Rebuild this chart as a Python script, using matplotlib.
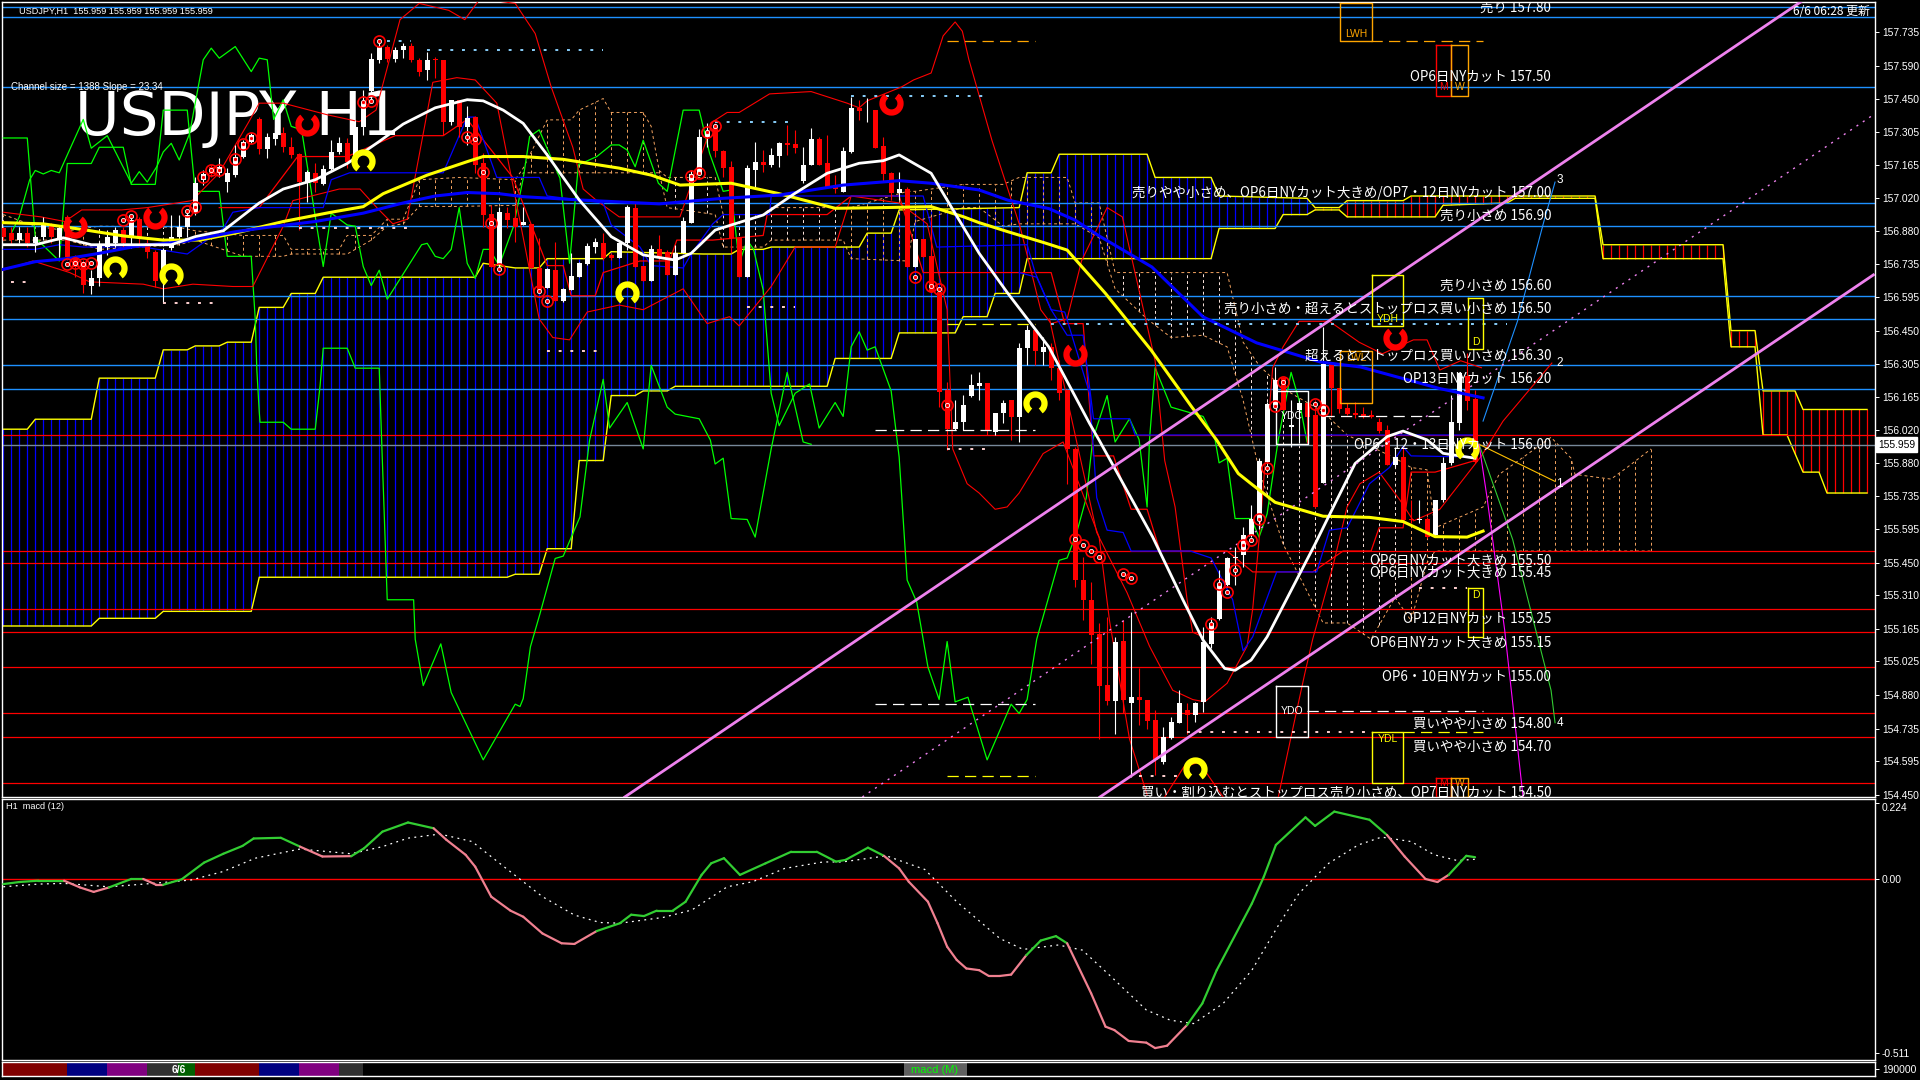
import numpy as np
import matplotlib
matplotlib.use("Agg")
import matplotlib.pyplot as plt
from matplotlib.path import Path

plt.rcParams['font.family'] = ['Noto Sans CJK JP', 'DejaVu Sans']

# candles, one entry per hourly bar
body_top = [156.891,156.869,156.869,156.869,156.855,156.905,156.901,156.891,156.941,156.766,
156.747,156.675,156.819,156.855,156.884,156.884,156.927,156.931,156.826,156.790,
156.797,156.855,156.895,156.948,157.085,157.125,157.157,157.157,157.131,157.200,
157.264,157.293,157.362,157.286,157.303,157.300,157.243,157.210,157.135,157.131,
157.147,157.219,157.260,157.257,157.329,157.437,157.619,157.674,157.671,157.660,
157.677,157.677,157.617,157.617,157.621,157.617,157.444,157.444,157.365,157.372,
157.171,156.952,156.962,156.955,156.934,156.920,156.908,156.718,156.714,156.711,
156.628,156.685,156.743,156.814,156.833,156.826,156.776,156.826,156.981,156.977,
156.728,156.800,156.800,156.790,156.783,156.922,157.125,157.283,157.307,157.329,
157.225,157.156,156.848,157.149,157.178,157.178,157.207,157.257,157.257,157.254,
157.164,157.274,157.274,157.171,157.077,157.225,157.408,157.408,157.398,157.401,
157.246,157.128,157.060,157.060,156.845,156.843,156.771,156.618,156.193,156.054,
156.129,156.215,156.225,156.222,156.093,156.136,156.150,156.373,156.452,156.452,
156.380,156.380,156.287,156.193,155.939,155.374,155.291,155.142,154.922,155.109,
155.112,154.871,154.871,154.860,154.771,154.699,154.764,154.843,154.814,154.843,
155.109,155.188,155.360,155.468,155.475,155.571,155.636,155.889,156.134,156.237,
156.244,156.042,156.137,156.137,156.086,156.306,156.306,156.201,156.117,156.094,
156.091,156.086,156.058,156.022,155.907,155.907,155.638,155.638,155.637,155.720,
155.878,156.058,156.266,156.255,156.155]
body_bot = [156.855,156.841,156.841,156.829,156.829,156.855,156.855,156.841,156.769,156.726,
156.647,156.644,156.675,156.812,156.826,156.826,156.855,156.855,156.790,156.664,
156.697,156.805,156.855,156.895,156.956,157.099,157.125,157.128,157.092,157.121,
157.197,157.264,157.231,157.231,157.275,157.243,157.207,157.092,157.085,157.088,
157.082,157.145,157.219,157.178,157.185,157.329,157.484,157.614,157.619,157.619,
157.657,157.614,157.566,157.571,157.614,157.351,157.351,157.326,157.329,157.164,
156.948,156.725,156.733,156.927,156.898,156.905,156.718,156.625,156.632,156.579,
156.579,156.625,156.682,156.737,156.809,156.764,156.761,156.761,156.826,156.725,
156.665,156.665,156.768,156.689,156.689,156.783,156.915,157.125,157.283,157.225,
157.152,156.848,156.682,156.682,157.142,157.164,157.164,157.202,157.250,157.236,
157.096,157.164,157.164,157.070,157.059,157.049,157.221,157.398,157.396,157.236,
157.125,157.042,157.042,156.725,156.725,156.768,156.618,156.187,156.024,156.024,
156.054,156.167,156.211,156.021,156.014,156.093,156.078,156.078,156.373,156.361,
156.359,156.287,156.182,155.939,155.377,155.288,155.137,154.917,154.854,154.854,
154.857,154.843,154.857,154.768,154.598,154.591,154.695,154.759,154.792,154.792,
154.850,155.101,155.209,155.353,155.468,155.482,155.568,155.636,155.885,156.130,
156.108,156.033,156.108,156.079,155.691,155.795,156.201,156.111,156.091,156.086,
156.079,156.079,156.019,155.871,155.871,155.634,155.634,155.634,155.559,155.569,
155.720,155.878,156.053,156.148,155.885]
wick_high = [156.898,156.898,156.898,156.898,156.862,156.941,156.912,156.905,156.948,156.776,
156.754,156.711,156.833,156.884,156.898,156.898,156.941,156.941,156.848,156.797,
156.805,156.948,156.948,156.970,157.114,157.142,157.164,157.193,157.150,157.250,
157.272,157.300,157.372,157.300,157.326,157.329,157.286,157.214,157.142,157.174,
157.164,157.272,157.286,157.279,157.358,157.487,157.645,157.703,157.681,157.674,
157.688,157.688,157.624,157.652,157.631,157.617,157.444,157.444,157.418,157.375,
157.214,156.991,156.984,156.984,156.991,156.984,156.908,156.848,156.718,156.833,
156.632,156.783,156.747,156.826,156.848,156.869,156.783,156.833,156.991,156.998,
156.728,156.819,156.862,156.797,156.819,156.941,157.142,157.317,157.343,157.343,
157.228,157.182,156.855,157.164,157.264,157.228,157.235,157.264,157.336,157.315,
157.243,157.322,157.286,157.293,157.121,157.240,157.458,157.444,157.451,157.401,
157.286,157.135,157.135,157.070,156.845,156.843,156.941,156.639,156.229,156.150,
156.172,156.265,156.272,156.222,156.093,156.150,156.150,156.395,156.474,156.452,
156.423,156.395,156.323,156.2,155.95,155.475,155.367,155.188,155.216,155.130,
155.202,155.238,154.994,154.860,154.814,154.742,154.785,154.900,154.843,154.850,
155.173,155.216,155.420,155.475,155.518,155.604,155.698,155.899,156.144,156.295,
156.252,156.151,156.151,156.137,156.151,156.467,156.309,156.201,156.137,156.144,
156.122,156.108,156.072,156.043,155.950,155.950,155.720,155.720,155.648,155.720,
155.907,156.173,156.273,156.352,156.194]
wick_low = [156.841,156.82,156.826,156.812,156.790,156.841,156.826,156.769,156.754,156.682,
156.611,156.608,156.642,156.776,156.812,156.812,156.812,156.812,156.762,156.639,
156.568,156.797,156.848,156.855,156.948,157.078,157.114,157.114,157.049,157.114,
157.193,157.257,157.211,157.193,157.250,157.221,157.193,156.884,157.006,157.049,
157.078,157.142,157.211,157.150,157.178,157.293,157.437,157.602,157.609,157.609,
157.624,157.609,157.545,157.530,157.537,157.293,157.336,157.286,157.250,157.128,
156.898,156.725,156.725,156.891,156.833,156.905,156.718,156.618,156.632,156.579,
156.574,156.625,156.679,156.733,156.783,156.754,156.754,156.761,156.797,156.725,
156.665,156.665,156.754,156.689,156.689,156.783,156.912,157.121,157.243,157.200,
157.113,156.783,156.682,156.682,157.070,157.135,157.154,157.156,157.207,157.214,
157.085,157.164,157.164,157.063,157.042,157.049,157.214,157.358,157.350,157.236,
157.092,157.013,157.013,156.725,156.725,156.768,156.618,156.122,155.935,156.021,
156.021,156.165,156.150,155.999,155.999,156.050,155.978,155.971,156.301,156.301,
156.301,156.236,156.150,155.791,155.346,155.202,155.015,154.692,154.836,154.713,
154.800,154.527,154.749,154.735,154.534,154.584,154.692,154.757,154.713,154.764,
154.807,155.080,155.202,155.346,155.353,155.432,155.561,155.597,155.878,156.122,
156.108,155.950,155.964,155.964,155.684,155.792,156.079,156.094,156.086,156.072,
156.072,156.072,156.007,155.871,155.864,155.634,155.619,155.619,155.555,155.562,
155.713,155.871,156.022,156.108,155.878]
candle_up = ("rrwrwwrwrr" "rwwwwrwrrr" "wwwwwwrwww" "wwrwwrrrwr" "wwwrwwwwrw" "wrrwrrwrwr"
             "rrwrrwrrwr" "wwwwwrrwwr" "rwrrwwwwwr" "rrrwwrwwrr" "wwrrrwwrwr" "rrwrwrrrrw"
             "wwwrwwrwwr" "wrrrrrrrrw" "rwrrrwwwrw" "wwwwwwwwww" "rwwrrwrrrr" "rrrrwrrwrw" "wwwrr")

# moving averages (bar, price)
white_k = [0,4,7.5,11,16,21,24,27.5,32,35,39,43,47,50,54,58,60,62.5,65,68,72,76,80,84,86,89,91,95,99,103,107,110,112,116,119,122,125.6,130.7,135.8,137,143.7,147.5,150,152.7,154,156,158,161,164,166.5,169,173,175,178,180,184]
white_p = [156.82,156.82,156.85,156.82,156.82,156.82,156.855,156.88,157.0,157.06,157.1,157.17,157.265,157.34,157.41,157.445,157.44,157.40,157.343,157.207,157.013,156.855,156.776,156.754,156.783,156.883,156.905,156.948,157.042,157.128,157.171,157.182,157.207,157.128,156.955,156.783,156.61,156.38,156.05,155.978,155.56,155.288,155.116,154.994,154.986,155.03,155.13,155.33,155.53,155.705,155.877,155.993,156.017,155.979,155.921,155.9]
yellow_k = [0,5,10,15,20,24.6,29,35,41,45,47.5,53,58,60,65,70,77,81,84.6,91,97,104,110,116,120,122,125.6,130.2,133,137.8,143.5,148.6,151.7,154.4,156,159,165,170.8,175,179,183,185]
yellow_p = [156.915,156.91,156.885,156.858,156.84,156.84,156.87,156.92,156.96,156.984,157.04,157.12,157.178,157.2,157.2,157.188,157.15,157.12,157.077,157.085,157.04,156.977,156.98,156.984,156.941,156.915,156.876,156.828,156.797,156.61,156.366,156.12,155.978,155.834,155.79,155.71,155.65,155.645,155.627,155.562,155.56,155.586]
blue_k = [0,4,8,12,17,22.5,29,33,39,45,50,54,58,62,65,72,82,90,97,105,112,116,122,125.6,130.7,134,137,143.6,150,156.7,164.6,169.7,179.6,185]
blue_p = [156.714,156.747,156.76,156.783,156.816,156.833,156.876,156.895,156.92,156.956,157.0,157.03,157.045,157.04,157.027,157.013,156.996,157.02,157.034,157.077,157.096,157.085,157.056,157.012,156.976,156.926,156.858,156.724,156.509,156.397,156.315,156.293,156.2,156.16]

# stepped thin blue lines
kijun1_k = [0,4,7,10,17.5,23,27.5,28.7,32,40,41,43.3,55,58,59,61.7,67,68,75,76,79.6,81,85,86,88.7,90,95.8,96,115,116.7,128,129,131,133,135,136.3,140.8,141.5,184]
kijun1_p = [156.80,156.80,156.82,156.81,156.81,156.78,156.89,156.96,156.98,156.98,157.10,157.13,157.13,157.37,157.37,157.11,157.11,157.03,157.0,156.905,156.81,156.73,156.72,156.78,156.91,156.95,156.95,157.03,157.03,156.81,156.82,156.70,156.54,156.43,156.43,156.07,156.07,156.0,156.0]
kijun2_k = [127,129.2,131,132.7,135.8,136.7,138,140,141,148.4,151,153.7,155,156.2,159.2,164.2,165.8,168,170.8,173.3,175,176,184]
kijun2_p = [156.70,156.68,156.54,156.53,156.18,155.73,155.59,155.58,155.50,155.50,155.47,155.29,155.07,155.13,155.41,155.41,155.59,155.60,155.79,155.86,155.95,155.91,155.905]

# thin red bands
red_up_k = [0,4.7,7.7,9.8,14.8,18,23.6,27,30.7,32,35,40.5,44.5,46.6,49.6,52,55.7,57.7,59.6,64,66.5,68.5,71.2,72.5,74.2,77,84.6,88.7,90.5,92,95.8,101,105.5,107,108,112.3,113.8,116,117.5,119,119.9,120.7,123.6,127.1,129.7,131,133,134.8,138,139.9,144,145.2,146.5,148,148.7,150]
red_up_p = [156.96,156.94,156.92,156.97,156.97,156.98,157.01,157.13,157.35,157.43,157.43,157.38,157.35,157.40,157.79,157.86,157.83,157.79,157.88,157.86,157.73,157.50,157.24,157.06,157.01,156.94,156.94,157.35,157.39,157.39,157.47,157.48,157.43,157.41,157.44,157.50,157.53,157.56,157.72,157.78,157.74,157.62,157.27,156.90,156.54,156.48,156.50,156.75,156.98,156.94,156.32,155.89,155.69,155.29,155.15,155.13]
red_low_k = [0,3.7,8.3,10.8,17.5,20,23.7,28.7,31.2,35,36.2,42,44.6,46.7,48.7,50.5,53.7,56.7,59,61.7,67,68.7,70.8,73,77,80,85,88,90.8,92,96,99,104,106,112,115.5,118,118.7,120.5,122,124,125.5,127,130,132.5,137,138.3,140.8,143]
red_low_p = [156.71,156.75,156.70,156.66,156.65,156.63,156.65,156.64,156.64,156.90,157.01,157.06,157.06,156.98,156.91,156.93,157.52,157.54,157.53,157.43,156.50,156.42,156.41,156.53,156.56,156.54,156.63,156.48,156.51,156.47,156.64,156.81,156.81,157.03,157.0,156.91,156.54,155.94,155.79,155.75,155.68,155.69,155.75,155.92,155.97,155.56,155.20,154.69,154.45]
red_mid_k = [130.8,136.7,138,140.5,143.3,146.2,148.7,150.2,153,155.5,156.2,157,158.7,160,162,165.8,169.5,172.4,176.3,178,179.6,182.2,184.8]
red_mid_p = [156.50,155.58,155.49,155.32,155.09,154.90,154.86,154.85,154.93,155.09,155.25,155.55,156.29,156.38,156.49,156.49,156.40,156.35,156.41,156.41,156.28,156.32,156.29]
red_rise_k = [159.4,161,162.7,163.7,166.2,168,169.6,172,174.6,176.3,179.6,184.8,187.5,193.6]
red_rise_p = [154.44,154.70,154.97,155.12,155.43,155.69,155.79,155.84,155.72,155.63,155.68,155.91,156.06,156.31]
red_bot_k = [145.2,147.6,149.5,152.5]
red_bot_p = [154.44,154.57,154.59,154.44]
red_step_k = [27,32,36.8,43,49,55,58,63.7,68,70,71,74,75,79.6,83.3,84.2,88.7,95,95.5,103,106,112,115,131,132.7,135,136.3,138.8,141,143,144.6,153,156.2,163.7,167.5,171,172,175,176,179,184]
red_step_p = [156.98,156.98,157.20,157.20,157.29,157.29,157.36,157.11,156.73,156.73,156.60,156.60,156.70,156.75,156.75,156.84,156.84,156.86,156.95,156.95,157.03,157.03,156.70,156.70,156.48,156.48,155.91,155.91,155.68,155.68,155.50,155.50,155.41,155.41,155.50,155.50,155.60,155.60,155.84,155.84,155.89]

# green lines
green1_k = [0.8,2,3.3,4,5,6,7,10,11,13,16,17,18,19.2,20,21,22,23.3,25,26,27,29,31,32,33,33.8,35,36,37.3,39.2,40,41,43,44,45,46,47,48,52.3,53,54,55,56,57,58,59,60,60.8,62,63.8,65,65.8,67,69.6,70.8,71.9,74.2,76,77,78,79,80,81.9,83,85,87,88.3,90,91,92,93,93.8,95,96,97,99,100.8,102,104,105,106,107,108,109,111,112,113,114.2,115.6,117,118,119,120.6,123,126,127,128,129.2,132,133,134.2,135.4,136.2,138,139,140.8,142,143,143.3,144,146,150,151.5,152,153,154,156,157,158,159.4,161,162,163]
green1_p = [156.855,156.94,157.10,157.14,157.125,157.14,157.13,157.36,157.236,157.29,157.085,157.135,157.09,157.157,157.22,157.257,157.185,157.30,157.617,157.667,157.624,157.674,157.566,157.624,157.617,157.36,157.444,157.33,157.315,156.898,156.726,156.956,156.905,156.90,156.726,156.644,156.71,156.585,156.82,156.826,156.77,156.76,156.80,156.98,156.74,156.675,156.80,156.80,156.73,156.90,157.106,157.286,157.315,157.106,156.74,157.164,157.2,157.25,157.25,157.228,157.156,157.27,157.085,157.05,157.40,157.40,157.214,157.05,157.056,156.74,156.84,156.80,156.625,156.18,156.04,156.18,156.22,156.03,156.14,156.08,156.38,156.445,156.366,156.38,156.19,155.905,155.375,155.28,155.0,154.86,155.11,154.85,154.87,154.60,154.84,154.80,154.86,155.12,155.46,155.47,155.58,155.73,155.98,156.17,155.97,156.07,155.98,155.69,155.98,156.29,156.12,156.08,155.98,155.88,155.90,155.64,155.64,155.56,155.66,155.98,156.27,156.15,155.97]
green2_k = [0,3,4,7,8,11,12,15,16,19,20,23,24,27,28,31,31.5,31.7,32,32.1,35,36,39,39.6,40,43,44,47,47.3,48,51.3,51.5,52.5,54.7,56,60,64,64.6,65,65.9,67.1,69,70,72.1,73.3,75,75.8,78,80,81,83,84,87,88.4,89,90,91,93,94,96,98,100,101]
green2_p = [157.28,157.28,156.85,156.75,157.17,157.17,157.24,157.24,157.08,157.08,157.40,157.40,157.05,157.05,156.77,156.77,156.50,156.28,156.10,156.055,156.055,156.025,156.025,156.21,156.374,156.374,156.288,156.288,155.98,155.29,155.29,155.12,154.92,155.10,154.89,154.60,154.84,154.83,154.864,155.087,155.23,155.468,155.478,155.647,155.978,156.24,156.03,156.14,155.94,156.30,156.12,156.09,156.07,155.978,155.875,155.90,155.64,155.636,155.56,155.94,156.27,155.97,155.96]

# ichimoku cloud edges
span_up_k = [0,3,4,11,12,19,20,23,24,27,28,31,32,35,36,39,40,59,60,64,67,68,75,76,87.5,91,92,95,96,107,108,111,112,127,128,131,132,143,144,151,152,163,164,167,168,175,176,199,200,215,216,219,220,224,225,233]
span_up_p = [156.025,156.025,156.068,156.068,156.245,156.245,156.367,156.367,156.384,156.384,156.40,156.40,156.55,156.55,156.61,156.61,156.68,156.68,156.74,156.72,156.72,156.76,156.76,156.79,156.78,156.78,156.80,156.80,156.81,156.81,156.87,156.87,156.97,156.98,157.13,157.13,157.21,157.21,157.11,157.11,157.03,157.02,156.98,156.98,157.01,157.01,157.03,157.03,156.82,156.82,156.45,156.45,156.19,156.19,156.11,156.11]
span_low_k = [0,11,12,19,20,31,32,63,64,67,68,71,72,75,76,79,80,83,84,103,104,111,112,119,120,123,124,127,128,151,152,159,160,163,164,167,168,171,172,179,180,188,189,199,200,215,216,219,220,223,225,227,228,233]
span_low_p = [155.177,155.177,155.21,155.21,155.24,155.24,155.387,155.387,155.40,155.40,155.51,155.51,155.89,155.89,156.17,156.17,156.19,156.19,156.21,156.21,156.33,156.33,156.44,156.44,156.51,156.51,156.61,156.61,156.76,156.76,156.89,156.89,156.95,156.95,156.97,156.97,156.94,156.94,156.94,156.94,156.99,157.0,157.02,157.02,156.76,156.76,156.38,156.38,156.0,156.0,155.84,155.84,155.75,155.75]
red_cloud_from = 164

# dashed cloud behind price
dash_k = [0,4,8,12,22,24,30,35,36,42,43,46,48,50,52,57,64,65,68,71,72,75,76,80,81,82,83,89,90,95,96,105,106,113,114,120,122,125,127,133,134,137,139,143,146,150,153,155,157,160,165,168,171,174,176,178,179,185,187,193.5,196,196.5,201,203,206]
dash_top = [156.95,156.90,156.88,156.90,156.895,156.88,156.86,156.86,156.80,156.80,156.86,156.86,156.93,156.93,157.10,157.11,157.10,157.15,157.358,157.358,157.40,157.45,157.39,157.39,157.33,157.14,157.11,157.11,156.95,156.95,156.98,156.98,156.98,157.05,157.05,157.08,157.08,157.08,157.11,157.11,157.00,157.00,156.70,156.70,156.70,156.70,156.70,156.40,156.30,156.2,156.1,156.0,155.95,155.9,155.86,155.85,155.60,155.69,155.83,155.99,155.9,155.83,155.81,155.86,155.94]
dash_bot = [156.84,156.84,156.84,156.80,156.82,156.84,156.77,156.77,156.78,156.78,156.78,156.84,156.90,156.91,156.985,156.985,156.99,157.13,157.13,157.13,157.13,157.13,157.13,157.13,157.13,157.13,156.98,156.95,156.81,156.81,156.84,156.84,156.76,156.75,156.92,156.98,156.98,156.90,156.91,156.91,156.91,156.85,156.63,156.50,156.42,156.43,156.38,156.15,155.85,155.53,155.19,155.19,155.12,155.30,155.2,155.45,155.50,155.50,155.50,155.50,155.50,155.50,155.50,155.50,155.50]
dash_white_ranges = [(12, 24), (83, 105), (139, 176)]

# channel lines
chan_up_k = [77.7, 224.7]
chan_up_p = [154.44, 157.866]
chan_low_k = [137.1, 233.8]
chan_low_p = [154.44, 156.69]
chan_mid_k = [107.4, 233.8]
chan_mid_p = [154.44, 157.38]

# projections out of the last bar
proj_blue_k = [185, 189.3, 192.6, 194]
proj_blue_p = [156.06, 156.49, 156.92, 157.09]
proj_gold_k = [184.5, 194]
proj_gold_p = [155.96, 155.80]
proj_green_k = [184.5, 188.7, 193.5, 194]
proj_green_p = [155.96, 155.55, 154.90, 154.76]
proj_mag_k = [184.5, 185.5, 187.7, 190]
proj_mag_p = [155.96, 155.73, 155.16, 154.44]

# price levels and comments
blue_levels = [157.846, 157.80, 157.50, 157.00, 156.90, 156.60, 156.50, 156.30, 156.20]
red_levels = [156.00, 155.50, 155.45, 155.25, 155.15, 155.00, 154.80, 154.70, 154.50]
bid = 155.959
note_price = [157.80,157.50,157.00,156.90,156.60,156.50,156.30,156.20,156.00,155.50,155.45,155.25,155.15,155.00,154.80,154.70,154.50]
note_text = ["売り 157.80","OP6日NYカット 157.50","売りやや小さめ、OP6日NYカット大きめ/OP7・12日NYカット 157.00","売り小さめ 156.90",
             "売り小さめ 156.60","売り小さめ・超えるとストップロス買い小さめ 156.50","超えるとストップロス買い小さめ 156.30","OP13日NYカット 156.20",
             "OP6・12・13日NYカット 156.00","OP6日NYカット大きめ 155.50","OP6日NYカット大きめ 155.45","OP12日NYカット 155.25",
             "OP6日NYカット大きめ 155.15","OP6・10日NYカット 155.00","買いやや小さめ 154.80","買いやや小さめ 154.70",
             "買い・割り込むとストップロス売り小さめ、OP7日NYカット 154.50"]
price_ticks = [157.735,157.590,157.450,157.305,157.165,157.020,156.880,156.735,156.595,156.450,156.305,156.165,156.020,155.880,155.735,155.595,155.450,155.310,155.165,155.025,154.880,154.735,154.595,154.450]

# signal circles and magnets
circle_k = [8,9,10,11,15,16,23,24,25,26,27,29,30,31,45,46,47,58,59,60,61,62,67,68,86,87,88,89,114,116,117,118,134,135,136,137,140,141,151,152,153,154,155,156,157,158,159,160,164,165]
circle_p = [156.736,156.743,156.736,156.743,156.927,156.945,156.967,156.984,157.114,157.142,157.142,157.188,157.254,157.279,157.434,157.44,157.696,157.283,157.275,157.135,156.912,156.714,156.622,156.579,157.118,157.128,157.304,157.332,156.682,156.64,156.628,156.129,155.551,155.528,155.5,155.475,155.403,155.382,155.185,155.36,155.324,155.418,155.524,155.547,155.637,155.856,156.125,156.23,156.134,156.108]
buy_k = [14,21,45,78,129,149,183]
buy_p = [156.72,156.69,157.18,156.61,156.14,154.56,155.94]
sell_k = [9,19,38,111,134,174]
sell_p = [156.90,156.94,157.34,157.43,156.35,156.42]

# short support/resistance marks: first bar, last bar, price
sky_dots = [(48,51,157.70),(53,75,157.66),(89,99,157.35),(106,123,157.46),(131,188,156.48)]
pink_dots = [(1,3,156.66),(20,27,156.57),(37,51,156.89),(68,75,156.36),(93,99,156.55),(118,123,155.94),(142,147,154.53),(148,171,154.72),(177,183,155.34)]
white_dash = [(109,129,156.02),(109,129,154.84),(163,185,154.81),(165,180,156.08)]
yellow_dash = [(118,129,154.53),(118,129,156.48),(175,185,154.72)]
orange_dash = [(118,129,157.70),(171,185,157.70)]

# boxes: first bar, last bar, top, bottom, label, label price, colour
box_name = ["LWH","M","W","YDH","D","LWL","YDC","YDO","YDL","D","M","W"]
box_left = [167.1,179.1,181,171.1,183.1,167.1,159.1,159.1,171.1,183.1,179.1,181]
box_right = [171.1,181,183.1,175,185,171.1,163.1,163.1,175,185,181,183.1]
box_top = [157.86,157.68,157.68,156.69,156.59,156.36,156.19,154.92,154.72,155.34,154.52,154.52]
box_bot = [157.70,157.46,157.46,156.47,156.37,156.14,155.96,154.70,154.50,155.13,154.44,154.44]
box_text_p = [157.73,157.50,157.50,156.50,156.40,156.33,156.08,154.81,154.69,155.31,154.50,154.50]
box_color = ["#ffa500","#ff0000","#ffa500","#ffff00","#ffff00","#ffa500","#ffffff","#ffffff","#ffff00","#ffff00","#ff0000","#ffa500"]

# macd pane
macd_k = [0,2,4.4,7.6,9.6,11.3,13.2,16,17.5,19.1,20,22.3,25.1,27.5,29.9,31.3,34.7,37.1,39.9,43.5,45.1,47.4,50.6,53.8,55.4,57.8,59,61,63.4,65,67.4,69.8,71.4,74.2,77.1,78.5,80.1,81.7,83.7,85.3,87.3,88.5,90.1,92.1,95.3,98.5,101.7,104.1,105.3,108.1,110.1,112,113.2,115.6,116.8,118,119.2,120.4,122,123.2,124.6,126,127.9,129.7,131.6,133,136,137.8,138.9,140.7,142.9,144,145.5,148,149.9,151.7,155,156.1,157.6,159.1,162.8,164,166.4,170.8,173,175.2,177.8,179.3,180.7,182.9,184]
macd_v = [-.015,-.009,-.005,-.005,-.025,-.038,-.025,0,0,-.017,-.017,-.001,.048,.074,.097,.119,.121,.095,.066,.067,.09,.139,.166,.149,.115,.071,.036,-.052,-.093,-.111,-.16,-.189,-.191,-.153,-.13,-.105,-.109,-.093,-.093,-.067,.012,.046,.061,.012,.046,.08,.08,.051,.056,.092,.068,.031,-.008,-.067,-.13,-.199,-.238,-.263,-.268,-.285,-.285,-.281,-.224,-.181,-.168,-.189,-.336,-.434,-.444,-.476,-.481,-.497,-.49,-.429,-.366,-.268,-.121,-.072,.007,.1,.181,.156,.198,.174,.129,.066,0,-.009,.012,.068,.064]
signal_k = [0,4.4,7.6,13.2,18.7,23.5,27.5,31.5,37.1,43.5,47.4,50.6,54.6,58.6,62.6,67.4,71.4,74.6,77.1,82.5,86.1,90.5,93.7,97.7,102.5,104.9,110.4,115.2,119.2,124.6,127.5,131.9,134.9,138.5,142.9,145.9,148.8,152.5,156.1,159.8,162,165.7,169.4,172.3,176,178.9,181.8,184]
signal_v = [-.023,-.015,-.013,-.023,-.013,-.003,.022,.061,.088,.074,.095,.12,.132,.11,.036,-.052,-.106,-.128,-.13,-.113,-.091,-.023,-.008,.031,.05,.05,.068,.028,-.067,-.175,-.207,-.194,-.209,-.287,-.385,-.415,-.425,-.366,-.268,-.121,-.042,.046,.1,.123,.11,.071,.054,.058]

# strip at the bottom: tab colours and widths in pixels of the window
tab_left = [3,67,107,147,178,195,259,299,339]
tab_width = [64,40,40,31,17,64,40,40,24]
tab_color = ["#800000","#000080","#800080","#303030","#006000","#800000","#000080","#800080","#303030"]

FONT_NARROW = ['Liberation Sans', 'DejaVu Sans']
SKY = '#1e90ff'

fig = plt.figure(figsize=(19.2, 10.8), dpi=100, facecolor='black')
ax = fig.add_axes([2/1920, 1-797/1080, 1873/1920, 795/1080], facecolor='black')
ax.set_xlim(-0.16, 234)
ax.set_ylim(154.44, 157.866)
ax2 = fig.add_axes([2/1920, 1-1060/1080, 1873/1920, 261/1080], facecolor='black')
ax2.set_xlim(-0.16, 234)
ax2.set_ylim(-0.532, 0.235)
ax3 = fig.add_axes([2/1920, 1-1076/1080, 1873/1920, 14/1080], facecolor='black')
ax3.set_xlim(2, 1875)
ax3.set_ylim(0, 1)

for a in (ax, ax2, ax3):
    for s in a.spines.values():
        s.set_color('white')
        s.set_linewidth(1)
    a.set_xticks([])
    a.yaxis.tick_right()
    a.tick_params(axis='y', colors='white', length=3, width=0.7, pad=2, labelsize=7.4)

# main cloud hatching
hatch_k = np.arange(0, 234)
up_edge = np.interp(hatch_k, span_up_k, span_up_p)
low_edge = np.interp(hatch_k, span_low_k, span_low_p)
cloud_col = ['#ff0000' if k >= red_cloud_from else '#0000ff' for k in hatch_k]
ax.vlines(hatch_k, low_edge, up_edge, colors=cloud_col, linewidth=0.9, zorder=1)
ax.plot(span_up_k, span_up_p, color='#ffff00', lw=1.0, zorder=2)
ax.plot(span_low_k, span_low_p, color='#ffff00', lw=1.0, zorder=2)

# dashed cloud, one column every second bar
hatch_d = np.arange(0, 207, 2)
d_top = np.interp(hatch_d, dash_k, dash_top)
d_bot = np.interp(hatch_d, dash_k, dash_bot)
for k, t, b in zip(hatch_d, d_top, d_bot):
    col = '#f4a460'
    for lo, hi in dash_white_ranges:
        if lo <= k < hi:
            col = '#ffe8e0'
    ax.plot([k, k], [b, t], color=col, lw=0.7, dashes=(3, 3), zorder=1.5)
ax.plot(dash_k, dash_top, color='#f4a460', lw=0.7, dashes=(3, 3), zorder=1.5)
ax.plot(dash_k, dash_bot, color='#f4a460', lw=0.7, dashes=(3, 3), zorder=1.5)

# levels
for p in blue_levels:
    ax.axhline(p, color=SKY, lw=1.0, zorder=2)
for p in red_levels:
    ax.axhline(p, color='#ff0000', lw=0.9, zorder=2)
ax.axhline(bid, color='#778899', lw=1.0, zorder=2)

ax.text(75/8-0.4, 157.366, "USDJPY H1", color='white', fontsize=44, family='DejaVu Sans', va='center', ha='left', zorder=3)

# thin indicator lines
ax.plot(green1_k, green1_p, color='#00ff00', lw=0.9, zorder=3.2)
ax.plot(green2_k, green2_p, color='#00ff00', lw=0.9, zorder=3.2)
for xs, ys in ((red_up_k, red_up_p), (red_low_k, red_low_p), (red_mid_k, red_mid_p), (red_rise_k, red_rise_p), (red_bot_k, red_bot_p)):
    ax.plot(xs, ys, color='#ff0000', lw=0.8, zorder=3.3)
ax.plot(red_step_k, red_step_p, color='#ff0000', lw=0.9, zorder=3.3)
ax.plot(kijun1_k, kijun1_p, color='#0000ff', lw=0.9, zorder=3.3)
ax.plot(kijun2_k, kijun2_p, color='#0000ff', lw=0.9, zorder=3.3)

# candles
x = np.arange(len(body_top))
colors = ['#ffffff' if c == 'w' else '#ff0000' for c in candle_up]
ax.vlines(x, wick_low, wick_high, colors=colors, linewidth=0.8, zorder=4)
ax.bar(x, np.array(body_top)-np.array(body_bot), bottom=body_bot, width=0.62, color=colors, linewidth=0, zorder=4)

# moving averages
ax.plot(yellow_k, yellow_p, color='#ffff00', lw=2.2, zorder=5)
ax.plot(blue_k, blue_p, color='#0000ff', lw=2.2, zorder=5)
ax.plot(white_k, white_p, color='#ffffff', lw=2.0, zorder=5)

# channel
ax.plot(chan_up_k, chan_up_p, color='#ee82ee', lw=2.0, zorder=5.5)
ax.plot(chan_low_k, chan_low_p, color='#ee82ee', lw=2.0, zorder=5.5)
ax.plot(chan_mid_k, chan_mid_p, color='#ee82ee', lw=1.0, dashes=(1.5, 4), zorder=5.5)

# projections
ax.plot(proj_blue_k, proj_blue_p, color='#1e90ff', lw=0.8, zorder=3.4)
ax.plot(proj_gold_k, proj_gold_p, color='#ffc000', lw=0.8, zorder=3.4)
ax.plot(proj_green_k, proj_green_p, color='#32cd32', lw=0.8, zorder=3.4)
ax.plot(proj_mag_k, proj_mag_p, color='#ff00ff', lw=0.8, zorder=3.4)
for txt, p in (("3", 157.10), ("2", 156.31), ("1", 155.79), ("4", 154.76)):
    ax.text(194.6, p, txt, color='white', fontsize=8.5, family=FONT_NARROW, va='center', ha='center', zorder=6)

# marks
for seg_list, col, dash, lw in ((sky_dots, '#87cefa', (1.5, 4.5), 1.4), (pink_dots, '#ffd0d0', (1.5, 4.5), 1.4),
                                (white_dash, '#ffffff', (9, 5), 0.9), (yellow_dash, '#ffff00', (9, 5), 0.9), (orange_dash, '#ffa500', (9, 5), 0.9)):
    for a, b, p in seg_list:
        ax.plot([a, b], [p, p], color=col, lw=lw, dashes=dash, zorder=5.6)

# boxes
for i, name in enumerate(box_name):
    l, r = box_left[i], box_right[i]
    t, b = box_top[i], box_bot[i]
    ax.plot([l, r, r, l, l], [t, t, b, b, t], color=box_color[i], lw=1.0, zorder=5.7)
    ax.text((l+r)/2, box_text_p[i], name, color=box_color[i], fontsize=7.5, family=FONT_NARROW, ha='center', va='center', zorder=5.7, clip_on=True)

ax.plot(circle_k, circle_p, ls='none', marker='o', ms=8, mfc='none', mec='#ff0000', mew=1.2, zorder=6)
ax.plot(circle_k, circle_p, ls='none', marker='o', ms=3, mfc='#ff0000', mec='#ffffff', mew=0.6, zorder=6)
ax.plot(buy_k, buy_p, ls='none', marker=Path.arc(-55, 235), ms=13, fillstyle='none', mec='#ffff00', mew=4.5, zorder=6.2)
ax.plot(sell_k, sell_p, ls='none', marker=Path.arc(125, 415), ms=13, fillstyle='none', mec='#ff0000', mew=4.5, zorder=6.2)

# comments on the levels
for p, t in zip(note_price, note_text):
    yt = p + 0.043 if p > 156.1 else p - 0.043
    ax.text(193.5, yt, t, color='white', fontsize=9.7, ha='right', va='center', zorder=7, clip_on=True)

ax.text(2.0, 157.825, "USDJPY,H1  155.959 155.959 155.959 155.959", color='white', fontsize=6.6, family=FONT_NARROW, va='center', zorder=8)
ax.text(1.0, 157.50, "Channel size = 1388 Slope = 23.34", color='white', fontsize=7, family=FONT_NARROW, va='center', zorder=8)
ax.text(233.4, 157.824, "6/6 06:28 更新", color='white', fontsize=8.6, ha='right', va='center', zorder=8)

ax.set_yticks(price_ticks)
ax.set_yticklabels(["%.3f" % v for v in price_ticks], family=FONT_NARROW)
ax.text(1.0016, bid, "155.959", transform=ax.get_yaxis_transform(), color='black', fontsize=7.4,
        family=FONT_NARROW, va='center', ha='left', clip_on=False, zorder=9,
        bbox=dict(facecolor='white', edgecolor='white', pad=1.5))

# macd
ax2.axhline(0, color='#ff0000', lw=1.0)
sig_at = np.interp(macd_k, signal_k, signal_v)
for i in range(len(macd_k)-1):
    col = '#32cd32' if macd_v[i+1] >= sig_at[i+1] else '#f08090'
    ax2.plot(macd_k[i:i+2], macd_v[i:i+2], color=col, lw=1.6, solid_capstyle='round', zorder=3)
ax2.plot(signal_k, signal_v, color='white', lw=0.9, dashes=(1.5, 3.5), zorder=2)
ax2.text(0.4, 0.212, "H1  macd (12)", color='white', fontsize=6.6, family=FONT_NARROW, va='center')
ax2.set_yticks([0.224, 0, -0.511])
ax2.set_yticklabels(["0.224", "0.00", "-0.511"], family=FONT_NARROW)
ax2.get_yticklabels()[0].set_va('top')

# bottom strip
ax3.barh(0.5, tab_width, left=tab_left, height=1, color=tab_color, linewidth=0)
ax3.text(179, 0.45, "6/6", color='white', fontsize=7.5, family=FONT_NARROW, ha='center', va='center', fontweight='bold')
ax3.barh(0.5, 63, left=904, height=1, color='#606060', linewidth=0)
ax3.text(935, 0.45, "macd (M)", color='#00ff00', fontsize=8, family=FONT_NARROW, ha='center', va='center')
ax3.set_yticks([0.5])
ax3.set_yticklabels(["190000"], family=FONT_NARROW)

fig.savefig('out.png', dpi=100, facecolor='black')
